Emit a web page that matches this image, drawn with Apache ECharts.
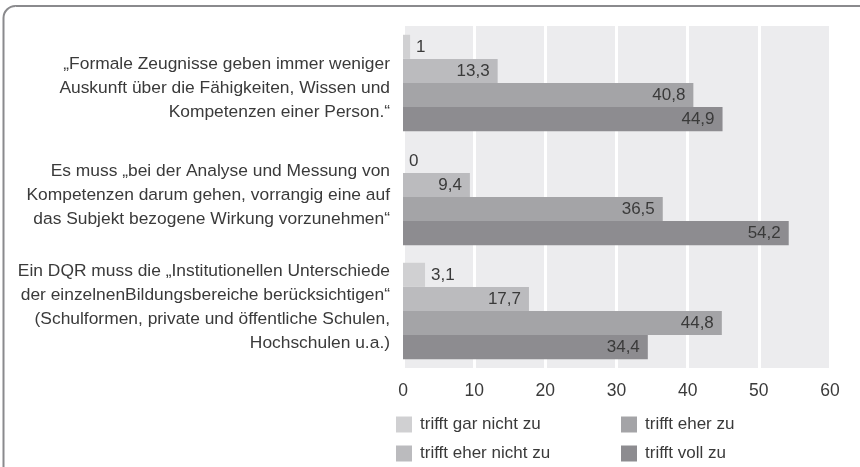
<!DOCTYPE html>
<html>
<head>
<meta charset="utf-8">
<script src="https://cdn.jsdelivr.net/npm/echarts@6/dist/echarts.min.js"></script>
<style>
  html, body { margin: 0; padding: 0; background: #fff; }
  #chart { width: 860px; height: 467px; }
</style>
</head>
<body>
<div id="chart"></div>
<script>
// Aussagen (Kategorien)
const categories = [
  "„Formale Zeugnisse geben immer weniger\nAuskunft über die Fähigkeiten, Wissen und\nKompetenzen einer Person.“",
  "Es muss „bei der Analyse und Messung von\nKompetenzen darum gehen, vorrangig eine auf\ndas Subjekt bezogene Wirkung vorzunehmen“",
  "Ein DQR muss die „Institutionellen Unterschiede\nder einzelnenBildungsbereiche berücksichtigen“\n(Schulformen, private und öffentliche Schulen,\nHochschulen u.a.)"
];
const seriesNames = ["trifft gar nicht zu", "trifft eher nicht zu", "trifft eher zu", "trifft voll zu"];
const garNicht = [1, 0, 3.1];
const eherNicht = [13.3, 9.4, 17.7];
const eherZu = [40.8, 36.5, 44.8];
const vollZu = [44.9, 54.2, 34.4];
const xTicks = [0, 10, 20, 30, 40, 50, 60];

const colors = ["#d0d0d2", "#bbbbbe", "#a4a4a7", "#8d8c90"];
const FONT = "'Liberation Sans', sans-serif";
const TEXT = "#3a3a3a";
// Leerzeilen, um die Beschriftungen etwas zu verschieben wie im Original
const before = ["{g10| }\n", "", ""];
const after = ["", "\n{g4| }", "\n{g8| }"];

const chart = echarts.init(document.getElementById("chart"));

const mkSeries = (name, values, i) => ({
  name: name,
  type: "bar",
  barGap: "0%",
  barCategoryGap: "15.4%",
  itemStyle: { color: colors[i] },
  data: values.map(v => ({
    value: v,
    label: v < 6 ? { position: "right", distance: 6 } : { position: "insideRight", distance: 8 }
  })),
  label: {
    show: true,
    fontFamily: FONT,
    fontSize: 17,
    color: TEXT,
    formatter: p => String(p.value).replace(".", ",")
  },
  silent: true
});

const mkLegend = (left, names) => ({
  orient: "vertical", left: left, top: 416, height: 60, padding: 0,
  itemWidth: 16, itemHeight: 16, itemGap: 12, icon: "rect",
  selectedMode: false,
  textStyle: { fontFamily: FONT, fontSize: 17, color: TEXT, padding: [0, 0, 0, 3] },
  data: names
});

const option = {
  animation: false,
  grid: {
    left: 403, top: 26, width: 427, height: 342,
    show: true, backgroundColor: "#ececee", borderWidth: 0,
    containLabel: false
  },
  xAxis: {
    type: "value",
    min: xTicks[0], max: xTicks[xTicks.length - 1], interval: 10,
    axisLine: { show: false },
    axisTick: { show: false },
    splitLine: { show: true, lineStyle: { color: "#ffffff", width: 3 } },
    axisLabel: { fontFamily: FONT, fontSize: 17.5, color: TEXT, margin: 14 }
  },
  yAxis: {
    type: "category",
    inverse: true,
    data: categories,
    axisLine: { show: false },
    axisTick: { show: false },
    axisLabel: {
      fontFamily: FONT, fontSize: 17.4, color: TEXT,
      lineHeight: 24, align: "right", margin: 13,
      formatter: (v, i) => before[i] + v + after[i],
      rich: {
        g10: { fontSize: 1, lineHeight: 10 },
        g8: { fontSize: 1, lineHeight: 8 },
        g4: { fontSize: 1, lineHeight: 4 }
      }
    }
  },
  legend: [
    mkLegend(396, seriesNames.slice(0, 2)),
    mkLegend(621, seriesNames.slice(2, 4))
  ],
  graphic: [{
    type: "rect",
    shape: { x: 3.5, y: 6, width: 900, height: 500, r: 12 },
    style: { fill: null, stroke: "#8a8a8d", lineWidth: 2 },
    silent: true
  }],
  series: [
    mkSeries(seriesNames[0], garNicht, 0),
    mkSeries(seriesNames[1], eherNicht, 1),
    mkSeries(seriesNames[2], eherZu, 2),
    mkSeries(seriesNames[3], vollZu, 3)
  ]
};

chart.setOption(option);
</script>
</body>
</html>
